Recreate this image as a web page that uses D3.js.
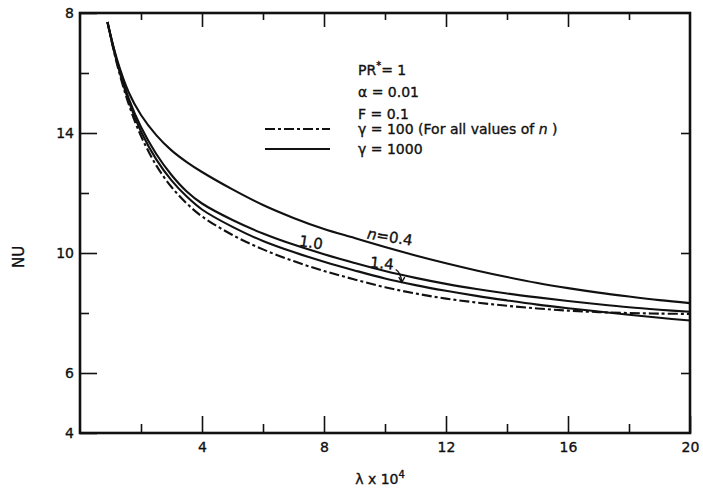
<!DOCTYPE html>
<html>
<head>
<meta charset="utf-8">
<script src="https://cdn.jsdelivr.net/npm/d3@7"></script>
<style>
  body { margin: 0; background: #fff; }
  text { font-family: "DejaVu Sans", sans-serif; fill: #111; stroke: #111; stroke-width: 0.35px; }
</style>
</head>
<body>
<svg id="chart" width="703" height="492"></svg>
<script>
// Nusselt number against lambda (x 10^4)
const lambdaValues = [0.9, 1.2, 1.6, 2.0, 2.5, 3.0, 3.5, 4.0, 5, 6, 7, 8, 9, 10, 11, 12, 13, 14, 15, 16, 17, 18, 19, 20];
// gamma = 1000 curves
const nuN04 = [17.7, 16.5, 15.35, 14.6, 13.93, 13.42, 13.03, 12.7, 12.12, 11.6, 11.17, 10.8, 10.5, 10.2, 9.92, 9.66, 9.42, 9.2, 9.0, 8.83, 8.68, 8.55, 8.43, 8.33];
const nuN10 = [17.7, 16.45, 15.15, 14.2, 13.3, 12.6, 12.05, 11.65, 11.1, 10.65, 10.28, 9.96, 9.67, 9.4, 9.17, 8.97, 8.8, 8.65, 8.52, 8.4, 8.29, 8.19, 8.11, 8.04];
const nuN14 = [17.7, 16.4, 15.05, 14.05, 13.12, 12.42, 11.88, 11.45, 10.87, 10.4, 10.03, 9.71, 9.42, 9.15, 8.93, 8.74, 8.57, 8.42, 8.28, 8.16, 8.05, 7.94, 7.84, 7.75];
// gamma = 100 (all n)
const nuGamma100 = [17.7, 16.35, 14.95, 13.9, 12.92, 12.2, 11.65, 11.22, 10.6, 10.12, 9.73, 9.4, 9.12, 8.86, 8.65, 8.48, 8.35, 8.24, 8.15, 8.08, 8.03, 8.0, 7.98, 7.97];

const xMajorTicks = [4, 8, 12, 16, 20];
const xMinorTicks = [2, 6, 10, 14, 18];
const xTickLabels = ["4", "8", "12", "16", "20"];
const yMajorTicks = [4, 6, 10, 14, 18];
const yMinorTicks = [8, 12, 16];
const yTickLabels = ["4", "6", "10", "14", "8"];

const svg = d3.select("#chart");
const plotLeft = 80, plotRight = 690, plotTop = 13, plotBottom = 433;

const x = d3.scaleLinear().domain([0, 20]).range([plotLeft, plotRight]);
const y = d3.scaleLinear().domain([4, 18]).range([plotBottom, plotTop]);

const ink = "#111";

function styleAxis(g) {
  g.select(".domain").remove();
  g.selectAll(".tick line").attr("stroke", ink).attr("stroke-width", 1.6);
  g.selectAll(".tick text").style("font-size", "14px").attr("fill", ink);
}

// bottom axis (ticks point inward)
svg.append("g").attr("transform", `translate(0,${plotBottom})`)
  .call(d3.axisBottom(x).tickValues(xMajorTicks).tickSize(-17).tickPadding(9)
    .tickFormat((d, i) => xTickLabels[i]))
  .call(styleAxis);
svg.append("g").attr("transform", `translate(0,${plotBottom})`)
  .call(d3.axisBottom(x).tickValues(xMinorTicks).tickSize(-9).tickFormat(""))
  .call(styleAxis);

// top axis, mirrored ticks
svg.append("g").attr("transform", `translate(0,${plotTop})`)
  .call(d3.axisTop(x).tickValues(xMajorTicks.slice(0, -1)).tickSize(-14).tickFormat(""))
  .call(styleAxis);
svg.append("g").attr("transform", `translate(0,${plotTop})`)
  .call(d3.axisTop(x).tickValues(xMinorTicks).tickSize(-7).tickFormat(""))
  .call(styleAxis);

// left axis
svg.append("g").attr("transform", `translate(${plotLeft},0)`)
  .call(d3.axisLeft(y).tickValues(yMajorTicks).tickSize(-17).tickPadding(6)
    .tickFormat((d, i) => yTickLabels[i]))
  .call(styleAxis);
svg.append("g").attr("transform", `translate(${plotLeft},0)`)
  .call(d3.axisLeft(y).tickValues(yMinorTicks).tickSize(-9).tickFormat(""))
  .call(styleAxis);

// right axis
svg.append("g").attr("transform", `translate(${plotRight},0)`)
  .call(d3.axisRight(y).tickValues([6, 10, 14]).tickSize(-9).tickFormat(""))
  .call(styleAxis);

// frame
svg.append("rect")
  .attr("x", plotLeft).attr("y", plotTop)
  .attr("width", plotRight - plotLeft).attr("height", plotBottom - plotTop)
  .attr("fill", "none").attr("stroke", ink).attr("stroke-width", 2.6);

// curves
const line = d3.line()
  .x((d, i) => x(lambdaValues[i]))
  .y(d => y(d))
  .curve(d3.curveCatmullRom.alpha(0.5));

const series = [
  { values: nuN04, dash: null },
  { values: nuN10, dash: null },
  { values: nuN14, dash: null },
  { values: nuGamma100, dash: "10,3,3,3" }
];

svg.append("g").selectAll("path").data(series).join("path")
  .attr("d", d => line(d.values))
  .attr("fill", "none")
  .attr("stroke", ink)
  .attr("stroke-width", 2.1)
  .attr("stroke-dasharray", d => d.dash);

// curve labels
function curveLabel(lx, ly, angle) {
  return svg.append("text")
    .attr("transform", `translate(${x(lx)},${y(ly)}) rotate(${angle})`)
    .attr("text-anchor", "middle")
    .attr("dominant-baseline", "middle")
    .style("font-size", "15px");
}
const lab04 = curveLabel(10.16, 10.53, 9);
lab04.append("tspan").style("font-style", "italic").text("n");
lab04.append("tspan").text("=0.4");
curveLabel(7.57, 10.33, 9).text("1.0");
curveLabel(9.9, 9.63, 6).text("1.4");

// leader from the 1.4 label down to its curve
const arrowLam = 10.55;
const arrowNu = d3.scaleLinear().domain(lambdaValues).range(nuN14)(arrowLam);
const ax0 = x(10.35), ay0 = y(9.45);
const ax1 = x(arrowLam), ay1 = y(arrowNu);
svg.append("path")
  .attr("d", `M${ax0},${ay0} Q${ax1 - 1},${ay0 + 3} ${ax1},${ay1}`)
  .attr("fill", "none").attr("stroke", ink).attr("stroke-width", 1.4);
svg.append("path")
  .attr("d", `M${ax1 - 3},${ay1 - 5} L${ax1},${ay1} L${ax1 + 3},${ay1 - 5}`)
  .attr("fill", "none").attr("stroke", ink).attr("stroke-width", 1.4);

// parameter block and legend
const tx = 358;
const legendFont = "14px";
const pr = svg.append("text").attr("x", tx).attr("y", 75).style("font-size", legendFont);
pr.append("tspan").text("PR");
pr.append("tspan").attr("dy", -6).style("font-size", "10px").text("*");
pr.append("tspan").attr("dy", 6).text("= 1");
svg.append("text").attr("x", tx).attr("y", 97).style("font-size", legendFont).text("α = 0.01");
svg.append("text").attr("x", tx).attr("y", 119).style("font-size", legendFont).text("F = 0.1");
const g100 = svg.append("text").attr("x", tx).attr("y", 134).style("font-size", legendFont);
g100.append("tspan").text("γ = 100 (For all values of ");
g100.append("tspan").style("font-style", "italic").text("n");
g100.append("tspan").text(" )");
svg.append("text").attr("x", tx).attr("y", 154).style("font-size", legendFont).text("γ = 1000");

svg.append("line").attr("x1", 265).attr("x2", 330).attr("y1", 129).attr("y2", 129)
  .attr("stroke", ink).attr("stroke-width", 2.1).attr("stroke-dasharray", "10,3,3,3");
svg.append("line").attr("x1", 265).attr("x2", 330).attr("y1", 149).attr("y2", 149)
  .attr("stroke", ink).attr("stroke-width", 2.1);

// axis titles
const xt = svg.append("text").attr("x", 380).attr("y", 484)
  .attr("text-anchor", "middle").style("font-size", "14px");
xt.append("tspan").text("λ x 10");
xt.append("tspan").attr("dy", -6).style("font-size", "10px").text("4");

svg.append("text")
  .attr("transform", `translate(24,257) rotate(-90)`)
  .attr("text-anchor", "middle")
  .style("font-size", "15px")
  .text("NU");
</script>
</body>
</html>
